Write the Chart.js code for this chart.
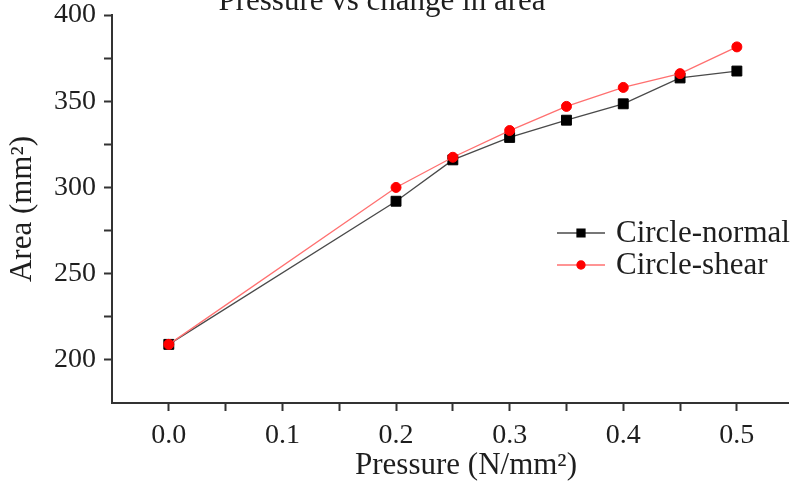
<!DOCTYPE html>
<html>
<head>
<meta charset="utf-8">
<script src="https://cdn.jsdelivr.net/npm/chart.js@4"></script>
<style>
  body { margin: 0; background: #fff; }
  canvas { display: block; }
</style>
</head>
<body>
<canvas id="myChart" width="796" height="483"></canvas>
<script>
// values
const pressure = [0, 0.2, 0.25, 0.3, 0.35, 0.4, 0.45, 0.5];
const areaNormal = [209, 292, 316, 329, 339, 348.5, 363.5, 367.5];
const areaShear = [209, 300, 317.5, 333, 347, 358, 366, 381.5];
const xTicks = [0, 0.05, 0.1, 0.15, 0.2, 0.25, 0.3, 0.35, 0.4, 0.45, 0.5];
const yTicks = [200, 225, 250, 275, 300, 325, 350, 375, 400];
const titleText = "Pressure vs change in area";
const xTitle = "Pressure (N/mm²)";
const yTitle = "Area (mm²)";

const serif = "'Liberation Serif', 'Times New Roman', serif";
const ink = "#1e1e1e";

const toPoints = (ys) => pressure.map((x, i) => ({ x: x, y: ys[i] }));

// title (cut off at the top in the original) and the x axis title,
// which sits a little right of the plot centre
const textPlugin = {
    id: "texts",
    afterDraw(chart) {
        const ctx = chart.ctx;
        ctx.save();
        ctx.font = "31px " + serif;
        ctx.fillStyle = ink;
        ctx.textAlign = "center";
        ctx.textBaseline = "alphabetic";
        ctx.fillText(titleText, 382, 10);
        ctx.textBaseline = "middle";
        ctx.fillText(xTitle, 466, 466);
        ctx.restore();
    },
};

// legend with line + marker sample, sitting inside the plot
const lineLegend = {
    id: "lineLegend",
    afterDraw(chart) {
        const ctx = chart.ctx;
        const x0 = 557, x1 = 605, tx = 616;
        const rows = [233, 265];
        chart.data.datasets.forEach((ds, i) => {
            const y = rows[i];
            ctx.save();
            ctx.strokeStyle = ds.borderColor;
            ctx.lineWidth = ds.borderWidth;
            ctx.beginPath();
            ctx.moveTo(x0, y);
            ctx.lineTo(x1, y);
            ctx.stroke();
            ctx.fillStyle = ds.pointBackgroundColor;
            ctx.strokeStyle = ds.pointBorderColor;
            Chart.helpers.drawPoint(ctx, {
                pointStyle: ds.pointStyle,
                radius: ds.pointRadius * 0.8,
                borderWidth: 1,
                rotation: 0,
            }, (x0 + x1) / 2, y);
            ctx.font = "31px " + serif;
            ctx.fillStyle = ink;
            ctx.textAlign = "left";
            ctx.textBaseline = "middle";
            ctx.fillText(ds.label, tx, y + 1);
            ctx.restore();
        });
    },
};

const ctx = document.getElementById("myChart").getContext("2d");

const myChart = new Chart(ctx, {
    type: "scatter",
    data: {
        datasets: [{
            label: "Circle-normal",
            data: toPoints(areaNormal),
            showLine: true,
            borderColor: "#4a4a4a",
            borderWidth: 1.3,
            pointStyle: "rect",
            pointRadius: 7,
            pointBackgroundColor: "#000",
            pointBorderColor: "#000",
            pointBorderWidth: 1,
            order: 1,
        }, {
            label: "Circle-shear",
            data: toPoints(areaShear),
            showLine: true,
            borderColor: "#ff7070",
            borderWidth: 1.3,
            pointStyle: "circle",
            pointRadius: 5,
            pointBackgroundColor: "#ff0000",
            pointBorderColor: "#ff0000",
            pointBorderWidth: 1,
            order: 0,
        }],
    },
    options: {
        responsive: false,
        animation: false,
        devicePixelRatio: 1,
        layout: { padding: { top: 15, right: 3, left: 0, bottom: 0 } },
        plugins: {
            legend: { display: false },
            tooltip: { enabled: false },
        },
        scales: {
            x: {
                type: "linear",
                min: -0.05,
                max: 0.545,
                afterBuildTicks: (scale) => {
                    scale.ticks = xTicks.map((v) => ({ value: v }));
                },
                afterFit: (scale) => {
                    scale.height = 80;
                    scale.paddingLeft = 0;
                    scale.paddingRight = 0;
                },
                ticks: {
                    autoSkip: false,
                    maxRotation: 0,
                    padding: 8,
                    color: ink,
                    font: { family: serif, size: 28 },
                    callback: (v) => (Math.abs(v * 10 - Math.round(v * 10)) < 1e-6 ? v.toFixed(1) : ""),
                },
                grid: {
                    drawOnChartArea: false,
                    drawTicks: true,
                    tickLength: 8,
                    color: "#333",
                    tickWidth: 2,
                },
                border: { color: "#333", width: 2 },
                title: { display: false },
            },
            y: {
                min: 175,
                max: 400,
                afterBuildTicks: (scale) => {
                    scale.ticks = yTicks.map((v) => ({ value: v }));
                },
                afterFit: (scale) => {
                    scale.width = 112;
                    scale.paddingTop = 0;
                    scale.paddingBottom = 0;
                },
                ticks: {
                    autoSkip: false,
                    padding: 8,
                    color: ink,
                    font: { family: serif, size: 28 },
                    callback: (v) => (v % 50 === 0 ? String(v) : ""),
                },
                grid: {
                    drawOnChartArea: false,
                    drawTicks: true,
                    tickLength: 8,
                    color: "#333",
                    tickWidth: 2,
                },
                border: { color: "#333", width: 2 },
                title: {
                    display: true,
                    text: yTitle,
                    color: ink,
                    font: { family: serif, size: 31, lineHeight: 1 },
                    padding: { top: 7, bottom: 0 },
                },
            },
        },
    },
    plugins: [textPlugin, lineLegend],
});
</script>
</body>
</html>
